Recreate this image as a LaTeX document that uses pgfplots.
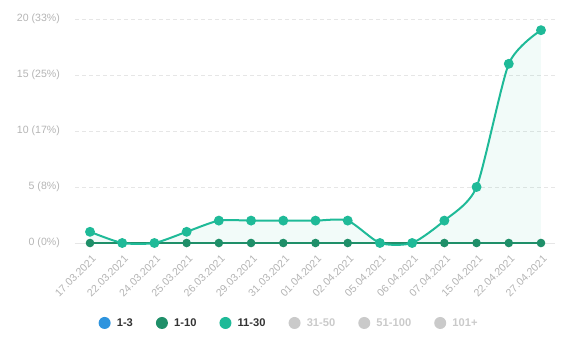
\documentclass[border=0pt]{standalone}
\usepackage{fontspec}
\setmainfont{Liberation Sans}
\usepackage{pgfplots}
\pgfplotsset{compat=1.18}
\definecolor{cteal}{HTML}{1FBA98}
\definecolor{cdark}{HTML}{1F8F69}
\definecolor{cblue}{HTML}{2E94DE}
\definecolor{cgrey}{HTML}{CACACA}
\definecolor{ctick}{HTML}{B4B4B4}
\definecolor{cgrid}{HTML}{E6E6E6}
\definecolor{ctext}{HTML}{333333}
\begin{document}
\begin{tikzpicture}
\begin{axis}[
  scale only axis, width=480bp, height=224bp,
  xmin=-0.466, xmax=14.435, ymin=0, ymax=20,
  clip=false,
  axis line style={draw=none},
  major tick length=0pt,
  xtick={0,...,14},
  xticklabels={17.03.2021,22.03.2021,24.03.2021,25.03.2021,26.03.2021,29.03.2021,31.03.2021,01.04.2021,02.04.2021,05.04.2021,06.04.2021,07.04.2021,15.04.2021,22.04.2021,27.04.2021},
  ytick={0,5,10,15,20},
  yticklabels={0 (0\%),5 (8\%),10 (17\%),15 (25\%),20 (33\%)},
  /pgf/number format/assume math mode=true,
  ymajorgrids,
  major grid style={cgrid, dashed, line width=0.8bp, dash pattern=on 4bp off 3bp},
  extra y ticks={0}, extra y tick labels={},
  extra y tick style={major grid style={solid, cgrid, line width=0.9bp}},
  yticklabel style={font=\fontsize{10.6}{12}\selectfont, text=ctick, anchor=east, inner sep=0pt, xshift=-15bp},
  xticklabel style={font=\fontsize{10.6}{12}\selectfont, text=ctick, rotate=45, anchor=north east, inner sep=0pt, xshift=-7bp, yshift=-9bp},
  legend columns=6,
  legend style={draw=none, fill=none, at={(axis description cs:0.446,-0.357)}, anchor=center,
    font=\bfseries\fontsize{11.2}{13}\selectfont,
    /tikz/every even column/.append style={column sep=21bp}},
  legend image code/.code={\fill[draw=none] (0bp,0bp) circle (6bp); \path (10bp,0bp);},
  legend cell align=left,
]
% area under 11-30
\addplot[draw=none, fill=cteal, fill opacity=0.06, smooth, tension=0.4, forget plot]
 coordinates {(0,1)(1,0)(2,0)(3,1)(4,2)(5,2)(6,2)(7,2)(8,2)(9,0)(10,0)(11,2)(12,5)(13,16)(14,19)} \closedcycle;
% 1-10
\addplot[color=cdark, line width=1.5bp, mark=*, mark size=3.5bp, mark options={solid, fill=cdark, draw=none}, forget plot]
 coordinates {(0,0)(1,0)(2,0)(3,0)(4,0)(5,0)(6,0)(7,0)(8,0)(9,0)(10,0)(11,0)(12,0)(13,0)(14,0)};
% 11-30
\addplot[color=cteal, line width=2bp, smooth, tension=0.4, mark=*, mark size=3.9bp, mark options={solid, fill=cteal, draw=none}, forget plot]
 coordinates {(0,1)(1,0)(2,0)(3,1)(4,2)(5,2)(6,2)(7,2)(8,2)(9,0)(10,0)(11,2)(12,5)(13,16)(14,19)};
% redraw 1-10 markers where 11-30 is not at zero
\addplot[color=cdark, only marks, mark=*, mark size=3.5bp, mark options={solid, fill=cdark, draw=none}, forget plot]
 coordinates {(0,0)(3,0)(4,0)(5,0)(6,0)(7,0)(8,0)(11,0)(12,0)(13,0)(14,0)};
\addlegendimage{color=cblue, fill=cblue}
\addlegendentry{\textcolor{ctext}{1-3}}
\addlegendimage{color=cdark, fill=cdark}
\addlegendentry{\textcolor{ctext}{1-10}}
\addlegendimage{color=cteal, fill=cteal}
\addlegendentry{\textcolor{ctext}{11-30}}
\addlegendimage{color=cgrey, fill=cgrey}
\addlegendentry{\textcolor{cgrey}{31-50}}
\addlegendimage{color=cgrey, fill=cgrey}
\addlegendentry{\textcolor{cgrey}{51-100}}
\addlegendimage{color=cgrey, fill=cgrey}
\addlegendentry{\textcolor{cgrey}{101+}}
\end{axis}
\pgfresetboundingbox
\path[use as bounding box] ([xshift=-75bp,yshift=-113bp]current axis.south west) rectangle ([xshift=23bp,yshift=19bp]current axis.north east);
\end{tikzpicture}
\end{document}
